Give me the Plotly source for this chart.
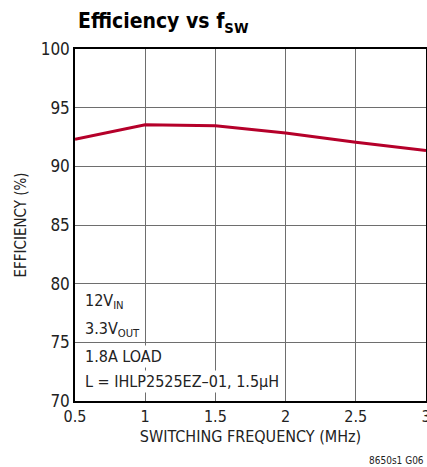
import plotly.graph_objects as go

freq = [0.5, 1.0, 1.5, 2.0, 2.5, 3.0]
efficiency = [92.3, 93.55, 93.45, 92.85, 92.05, 91.35]

x_ticks = [0.5, 1, 1.5, 2, 2.5, 3]
x_tick_labels = ["0.5", "1", "1.5", "2", "2.5", "3"]
y_ticks = [70, 75, 80, 85, 90, 95, 100]

notes = ["12V<sub>IN</sub>", "3.3V<sub>OUT</sub>", "1.8A LOAD", "L = IHLP2525EZ–01, 1.5µH"]
note_y = [78.45, 76.1, 73.8, 71.7]

FONT = "DejaVu Sans Condensed, Liberation Sans Narrow, Arial Narrow, sans-serif"

fig = go.Figure()
fig.add_trace(go.Scatter(x=freq, y=efficiency, mode="lines",
                         line=dict(color="#b5002a", width=3), showlegend=False,
                         cliponaxis=False))

for t, yv in zip(notes, note_y):
    fig.add_annotation(text=t, xref="paper", yref="y", x=0.022, y=yv,
                       xanchor="left", yanchor="middle", showarrow=False,
                       bgcolor="white", borderpad=1,
                       font=dict(family=FONT, size=16, color="#222"))

fig.add_annotation(text="8650s1 G06", xref="paper", yref="paper",
                   x=1.0, y=-0.168, xanchor="right", yanchor="middle", showarrow=False,
                   font=dict(family=FONT, size=10, color="#222"))

fig.update_layout(
    width=427, height=467,
    margin=dict(l=75, r=1, t=49, b=66, autoexpand=False),
    paper_bgcolor="white", plot_bgcolor="white",
    title=dict(text="<b>Efficiency vs f<sub>SW</sub></b>", x=78/427, xanchor="left",
               y=0.955, yanchor="middle", automargin=False,
               font=dict(family=FONT, size=21, color="black")),
    xaxis=dict(range=[0.5, 3], tickvals=x_ticks, ticktext=x_tick_labels,
               showgrid=True, gridcolor="#6e6e6e", gridwidth=1, automargin=False,
               showline=True, linecolor="black", linewidth=1.5, mirror=True,
               ticks="", zeroline=False, ticklabeloverflow="allow",
               tickfont=dict(family=FONT, size=16, color="#222"),
               title=dict(text="SWITCHING FREQUENCY (MHz)", standoff=6,
                          font=dict(family=FONT, size=16, color="#222"))),
    yaxis=dict(range=[70, 100], tickvals=y_ticks,
               showgrid=True, gridcolor="#6e6e6e", gridwidth=1, automargin=False,
               showline=True, linecolor="black", linewidth=1.5, mirror=True,
               ticks="", zeroline=False,
               tickfont=dict(family=FONT, size=17, color="#222"),
               title=dict(text="EFFICIENCY (%)", standoff=10,
                          font=dict(family=FONT, size=15, color="#222"))),
)

fig.write_html("out.html", config={"displayModeBar": False},
               post_script="document.body.style.margin='0';document.body.style.overflow='hidden';")
